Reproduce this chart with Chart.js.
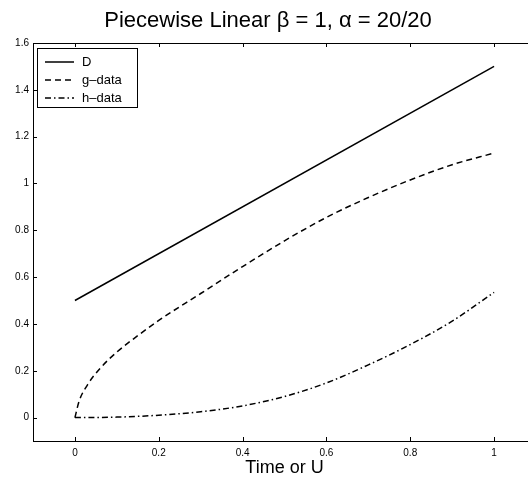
<!DOCTYPE html>
<html>
<head>
<meta charset="utf-8">
<script src="https://cdn.jsdelivr.net/npm/chart.js@4"></script>
<style>
html,body{margin:0;padding:0;overflow:hidden;background:#fff;}
#wrap{position:relative;width:540px;height:483px;}
</style>
</head>
<body>
<div id="wrap"><canvas id="c"></canvas></div>
<script>
const titleText = 'Piecewise Linear \u03B2 = 1, \u03B1 = 20/20';
const xAxisTitle = 'Time or U';
const seriesLabels = ['D', 'g\u2013data', 'h\u2013data'];

const xD = [0, 1];
const dData = [0.5, 1.5];

const xG = [0, 0.01, 0.03, 0.06, 0.1, 0.15, 0.2, 0.3, 0.4, 0.5, 0.6, 0.7, 0.8, 0.9, 1.0];
const gData = [0, 0.07, 0.14, 0.21, 0.28, 0.35, 0.415, 0.53, 0.645, 0.755, 0.855, 0.94, 1.015, 1.08, 1.13];

const xH = [0, 0.1, 0.2, 0.3, 0.4, 0.5, 0.6, 0.7, 0.8, 0.9, 1.0];
const hData = [0, 0.002, 0.01, 0.025, 0.05, 0.09, 0.148, 0.225, 0.312, 0.412, 0.535];

const xTicks = [0, 0.2, 0.4, 0.6, 0.8, 1];
const yTicks = [0, 0.2, 0.4, 0.6, 0.8, 1, 1.2, 1.4, 1.6];

const toPts = (xs, ys) => xs.map((x, i) => ({x: x, y: ys[i]}));
const fmt = v => String(Math.round(v * 10) / 10);

const boxPlugin = {
  id: 'boxPlugin',
  afterDraw(chart) {
    const ctx = chart.ctx, a = chart.chartArea;
    const xs = chart.scales.x, ys = chart.scales.y;
    ctx.save();
    ctx.strokeStyle = '#000';
    ctx.lineWidth = 1;
    ctx.strokeRect(a.left + 0.5, a.top + 0.5, a.right - a.left, a.bottom - a.top);
    ctx.beginPath();
    xTicks.forEach(v => {
      const p = Math.round(xs.getPixelForValue(v)) + 0.5;
      ctx.moveTo(p, a.bottom); ctx.lineTo(p, a.bottom - 4);
      ctx.moveTo(p, a.top); ctx.lineTo(p, a.top + 4);
    });
    yTicks.forEach(v => {
      const p = Math.round(ys.getPixelForValue(v)) + 0.5;
      ctx.moveTo(a.left, p); ctx.lineTo(a.left + 4, p);
      ctx.moveTo(a.right, p); ctx.lineTo(a.right - 4, p);
    });
    ctx.stroke();
    // legend
    const lx = 37.5, ly = 48.5, lw = 100, lh = 59;
    ctx.fillStyle = '#fff';
    ctx.fillRect(lx, ly, lw, lh);
    ctx.strokeRect(lx, ly, lw, lh);
    ctx.font = '13px "Liberation Sans", Arial, sans-serif';
    ctx.textBaseline = 'middle';
    ctx.textAlign = 'left';
    chart.data.datasets.forEach((ds, i) => {
      const y = 62 + i * 18;
      ctx.beginPath();
      ctx.setLineDash(ds.borderDash || []);
      ctx.lineWidth = ds.borderWidth;
      ctx.moveTo(45, y); ctx.lineTo(74, y);
      ctx.stroke();
      ctx.setLineDash([]);
      ctx.fillStyle = '#000';
      ctx.fillText(ds.label, 82, y);
    });
    ctx.restore();
  }
};

new Chart(document.getElementById('c'), {
  type: 'line',
  data: {
    datasets: [
      {label: seriesLabels[0], data: toPts(xD, dData), borderColor: '#000', borderWidth: 1.5, pointRadius: 0, fill: false},
      {label: seriesLabels[1], data: toPts(xG, gData), borderColor: '#000', borderWidth: 1.5, borderDash: [6, 4], pointRadius: 0, fill: false, cubicInterpolationMode: 'monotone'},
      {label: seriesLabels[2], data: toPts(xH, hData), borderColor: '#000', borderWidth: 1.5, borderDash: [6, 3, 1.5, 3], pointRadius: 0, fill: false, cubicInterpolationMode: 'monotone'}
    ]
  },
  options: {
    responsive: true,
    maintainAspectRatio: false,
    animation: false,
    layout: {padding: {left: 0, right: 4, top: 0, bottom: 0}},
    plugins: {
      legend: {display: false},
      tooltip: {enabled: false},
      title: {
        display: true,
        text: titleText,
        color: '#000',
        font: {family: '"Liberation Sans", Arial, sans-serif', size: 22, weight: 'normal'},
        padding: {top: 8, bottom: 8.6}
      }
    },
    scales: {
      x: {
        type: 'linear',
        min: -0.1, max: 1.1,
        grid: {display: false, drawTicks: false},
        border: {display: false},
        afterBuildTicks: s => { s.ticks = xTicks.map(v => ({value: v})); },
        afterFit: s => { s.height = 42; },
        ticks: {color: '#000', padding: 6, maxRotation: 0, font: {family: '"Liberation Sans", Arial, sans-serif', size: 10}, callback: v => fmt(v)},
        title: {display: true, text: xAxisTitle, color: '#000', padding: {top: 0, bottom: 4}, font: {family: '"Liberation Sans", Arial, sans-serif', size: 18}}
      },
      y: {
        type: 'linear',
        min: -0.1, max: 1.6,
        grid: {display: false, drawTicks: false},
        border: {display: false},
        afterBuildTicks: s => { s.ticks = yTicks.map(v => ({value: v})); },
        afterFit: s => { s.width = 33; },
        ticks: {color: '#000', padding: 4, font: {family: '"Liberation Sans", Arial, sans-serif', size: 10}, callback: v => fmt(v)}
      }
    }
  },
  plugins: [boxPlugin]
});
</script>
</body>
</html>
